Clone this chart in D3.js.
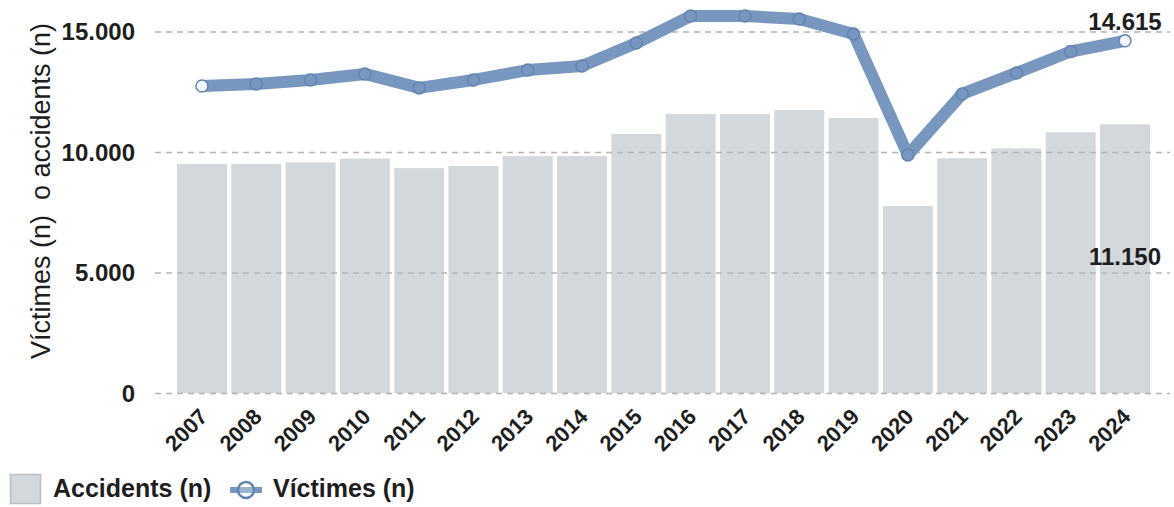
<!DOCTYPE html>
<html><head><meta charset="utf-8">
<script src="https://cdn.jsdelivr.net/npm/d3@7"></script>
<style>
html,body{margin:0;padding:0;background:#fff;}
svg{display:block;font-family:"Liberation Sans",Arial,sans-serif;}
</style></head>
<body>
<svg id="chart" width="1174" height="507"></svg>
<script>
const years = ["2007","2008","2009","2010","2011","2012","2013","2014","2015","2016","2017","2018","2019","2020","2021","2022","2023","2024"];
const accidents = [9500,9500,9570,9730,9330,9420,9830,9830,10750,11580,11580,11740,11410,7760,9740,10150,10820,11150];
const victimes = [12740,12820,12990,13240,12660,12990,13400,13570,14520,15640,15640,15520,14900,9880,12410,13280,14170,14615];
const yTicks = [0,5000,10000,15000];
const yTickLabels = ["0","5.000","10.000","15.000"];
const annotAcc = "11.150";
const annotVic = "14.615";

const svg = d3.select("#chart");
const textColor = "#1e1e1e";
const barColor = "#d3d8dd";
const lineColor = "#7797be";
const pointStroke = "#6185b0";

const x = d3.scaleBand().domain(years).range([177, 1150]).paddingInner(0.08).paddingOuter(0);
const y = d3.scaleLinear().domain([0, 15000]).range([393, 31.5]);

// bars
svg.append("g").selectAll("rect").data(years).join("rect")
  .attr("x", d => x(d))
  .attr("y", (d,i) => y(accidents[i]))
  .attr("width", x.bandwidth())
  .attr("height", (d,i) => y(0) - y(accidents[i]))
  .attr("fill", barColor);

// gridlines (on top of bars)
const yAxis = d3.axisLeft(y).tickValues(yTicks).tickSize(-(1170-155)).tickFormat((d,i) => yTickLabels[i]);
const gAxis = svg.append("g").attr("transform", "translate(155,0)").call(yAxis);
gAxis.select(".domain").remove();
gAxis.selectAll(".tick line").attr("stroke", "#b4b4b4").attr("stroke-width", 1.3).attr("stroke-dasharray", "6,5");
gAxis.selectAll(".tick text").attr("x", -20).attr("dy", "0.35em")
  .attr("fill", textColor).style("font-size", "24px").style("font-weight", "bold").attr("font-family", null);

// y title
svg.append("text")
  .attr("transform", "translate(50,191) rotate(-90)")
  .attr("text-anchor", "middle")
  .attr("fill", textColor)
  .style("font-size", "27px")
  .attr("xml:space", "preserve")
  .text("Víctimes (n)  o accidents (n)");

// x labels
const xAxis = d3.axisBottom(x).tickSize(0);
const gx = svg.append("g").attr("transform", "translate(0,393)").call(xAxis);
gx.select(".domain").remove();
gx.selectAll(".tick text")
  .attr("text-anchor", "end")
  .attr("transform", "translate(7,25) rotate(-45)")
  .attr("y", 0).attr("dy", "0")
  .attr("fill", textColor).style("font-size", "22px").style("font-weight", "bold").attr("font-family", null);

// line
const cx = d => x(d) + x.bandwidth()/2;
const line = d3.line().x((d,i) => cx(years[i])).y(d => y(d));
svg.append("path").datum(victimes)
  .attr("d", line)
  .attr("fill", "none")
  .attr("stroke", lineColor)
  .attr("stroke-width", 12)
  .attr("stroke-linejoin", "round")
  .attr("stroke-linecap", "round");

svg.append("g").selectAll("circle").data(victimes).join("circle")
  .attr("cx", (d,i) => cx(years[i]))
  .attr("cy", d => y(d))
  .attr("r", 6)
  .attr("fill", (d,i) => (i === 0 || i === victimes.length-1) ? "#f4f7fb" : lineColor)
  .attr("stroke", pointStroke)
  .attr("stroke-width", 1.5);

// annotations
const last = years.length - 1;
svg.append("text")
  .attr("x", cx(years[last])).attr("y", y(victimes[last]) - 11)
  .attr("text-anchor", "middle").attr("fill", textColor)
  .style("font-size", "24px").style("font-weight", "bold")
  .text(annotVic);
svg.append("text")
  .attr("x", cx(years[last])).attr("y", (y(accidents[last]) + y(0))/2 + 6)
  .attr("text-anchor", "middle").attr("fill", textColor)
  .style("font-size", "24px").style("font-weight", "bold")
  .text(annotAcc);

// legend
const lg = svg.append("g");
lg.append("rect").attr("x", 10.5).attr("y", 474.5).attr("width", 30).attr("height", 29)
  .attr("fill", barColor).attr("stroke", "#b9bec4").attr("stroke-width", 1.5);
lg.append("text").attr("x", 53).attr("y", 497).attr("fill", textColor)
  .style("font-size", "25px").style("font-weight", "bold").text("Accidents (n)");
lg.append("line").attr("x1", 230).attr("x2", 262).attr("y1", 490).attr("y2", 490)
  .attr("stroke", lineColor).attr("stroke-width", 6);
lg.append("circle").attr("cx", 246).attr("cy", 490).attr("r", 8)
  .attr("fill", "#f4f7fb").attr("fill-opacity", 0.3).attr("stroke", pointStroke).attr("stroke-width", 2.5);
lg.append("text").attr("x", 273).attr("y", 497).attr("fill", textColor)
  .style("font-size", "25px").style("font-weight", "bold").text("Víctimes (n)");
</script>
</body></html>
